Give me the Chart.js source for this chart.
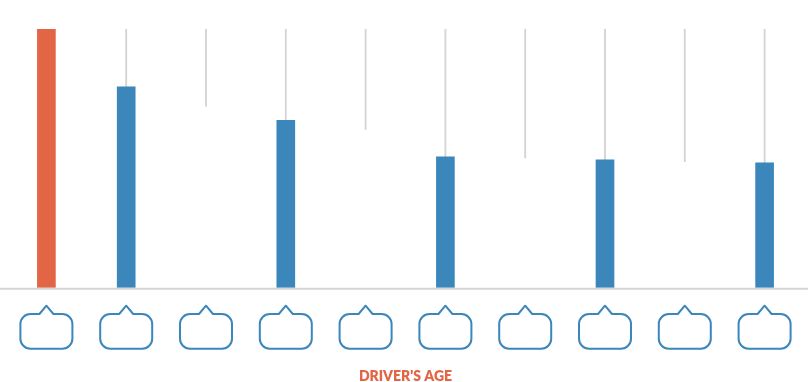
<!DOCTYPE html>
<html>
<head>
<meta charset="utf-8">
<style>html,body{margin:0;padding:0;background:#fff}#w{width:808px;height:382px;position:relative}</style>
<script src="https://cdn.jsdelivr.net/npm/chart.js@4"></script>
</head>
<body>
<div id="w"><canvas id="c"></canvas></div>
<script>
const categories = ["", "", "", "", "", "", "", "", "", ""];
const barValues = [100, 77.6, null, 64.7, null, 50.6, null, 49.4, null, 48.3];
const guideLows = [null, 77.6, 70.2, 64.7, 61.2, 50.6, 50.2, 49.4, 48.7, 48.3];
const axisTop = 100;
const axisTitle = "DRIVER'S AGE";
const barColors = ["#E26546", "#3B87BC", "#3B87BC", "#3B87BC", "#3B87BC", "#3B87BC", "#3B87BC", "#3B87BC", "#3B87BC", "#3B87BC"];
const GRAY = "#D4D4D4", BLUE = "#3B87BC";

const guideRanges = guideLows.map(v => v === null ? null : [v, axisTop]);

const decor = {
  id: "decor",
  afterDraw(chart) {
    const { ctx, scales: { x, y } } = chart;
    const by = y.getPixelForValue(0);
    ctx.save();
    ctx.strokeStyle = GRAY; ctx.lineWidth = 2;
    ctx.beginPath(); ctx.moveTo(0, by + 1); ctx.lineTo(chart.width, by + 1); ctx.stroke();
    ctx.strokeStyle = BLUE; ctx.lineWidth = 2; ctx.lineJoin = "round";
    categories.forEach((_, i) => {
      const cx = x.getPixelForValue(i);
      const l = cx - 26, r = cx + 26, t = by + 26.3, b = by + 61, rad = 10;
      ctx.beginPath();
      ctx.moveTo(l + rad, t);
      ctx.lineTo(cx - 7, t);
      ctx.lineTo(cx, by + 18);
      ctx.lineTo(cx + 7, t);
      ctx.lineTo(r - rad, t);
      ctx.arcTo(r, t, r, t + rad, rad);
      ctx.lineTo(r, b - rad);
      ctx.arcTo(r, b, r - rad, b, rad);
      ctx.lineTo(l + rad, b);
      ctx.arcTo(l, b, l, b - rad, rad);
      ctx.lineTo(l, t + rad);
      ctx.arcTo(l, t, l + rad, t, rad);
      ctx.closePath();
      ctx.stroke();
    });
    ctx.restore();
  }
};

new Chart(document.getElementById("c"), {
  type: "bar",
  data: {
    labels: categories,
    datasets: [
      { data: barValues, backgroundColor: barColors, barThickness: 18, order: 1, grouped: false },
      { data: guideRanges, backgroundColor: GRAY, barThickness: 1.2, order: 2, grouped: false }
    ]
  },
  plugins: [decor],
  options: {
    responsive: true,
    maintainAspectRatio: false,
    animation: false,
    layout: { padding: { left: 6.5, right: 3.5, top: 29, bottom: 0 } },
    plugins: { legend: { display: false }, tooltip: { enabled: false } },
    scales: {
      x: {
        grid: { display: false },
        border: { display: false },
        ticks: { display: false },
        title: {
          display: true, text: axisTitle, color: "#E26546",
          font: { family: "Lato", size: 14, weight: "800", lineHeight: 1.2 },
          padding: { top: 72.5, bottom: -3 }
        }
      },
      y: {
        display: false, min: 0, max: axisTop
      }
    }
  }
});
</script>
</body>
</html>
